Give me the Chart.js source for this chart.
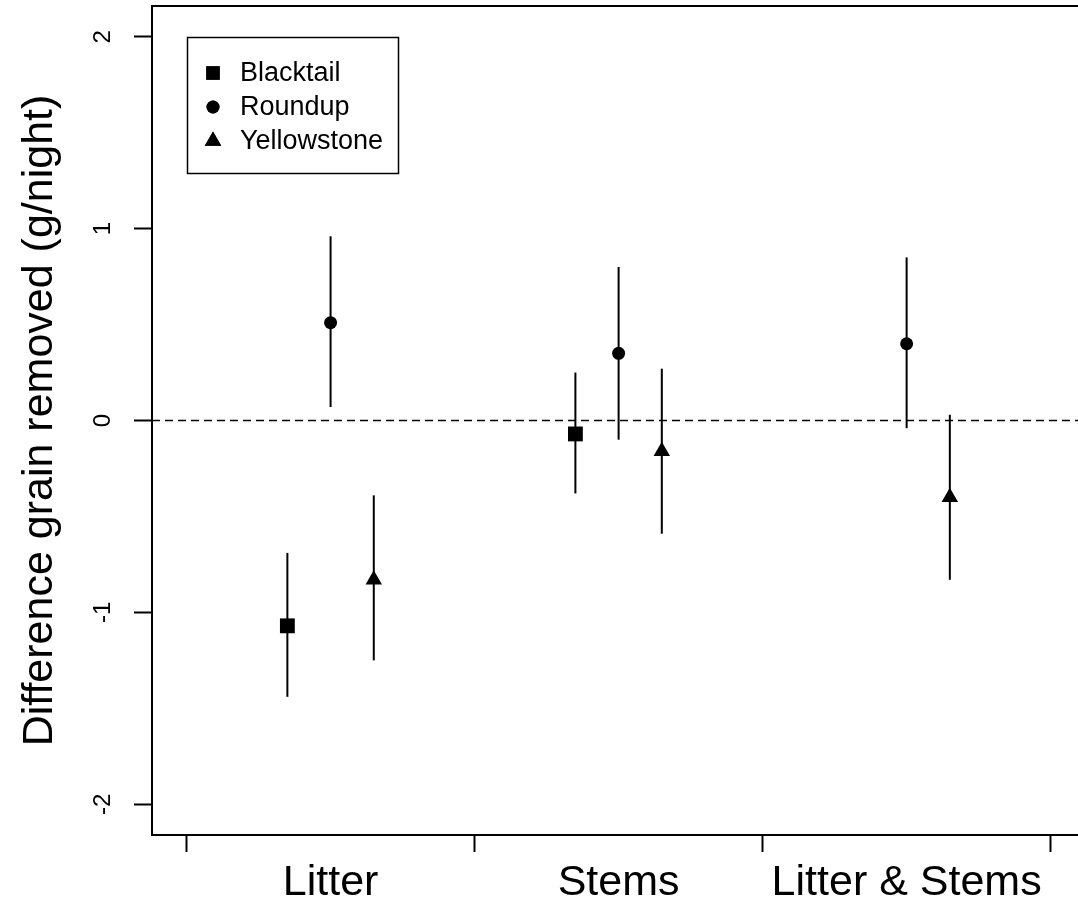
<!DOCTYPE html>
<html>
<head>
<meta charset="utf-8">
<script src="https://cdn.jsdelivr.net/npm/chart.js@4.4.1/dist/chart.umd.min.js"></script>
<style>
  html, body { margin: 0; padding: 0; background: #fff; }
  #wrap { width: 1078px; height: 905px; }
</style>
</head>
<body>
<div id="wrap"><canvas id="chart" width="1078" height="905"></canvas></div>
<script>
// treatment groups along the x axis
const categories = ["Litter", "Stems", "Litter & Stems"];
const yTicks = [-2, -1, 0, 1, 2];

// mean difference and interval ends per site (g/night)
const blacktailMean = [-1.07, -0.07, null];
const blacktailLow = [-1.44, -0.38, null];
const blacktailHigh = [-0.69, 0.25, null];

const roundupMean = [0.51, 0.35, 0.40];
const roundupLow = [0.07, -0.10, -0.04];
const roundupHigh = [0.96, 0.80, 0.85];

const yellowstoneMean = [-0.83, -0.16, -0.40];
const yellowstoneLow = [-1.25, -0.59, -0.83];
const yellowstoneHigh = [-0.39, 0.27, 0.03];

const FONT = "'Liberation Sans', Arial, Helvetica, sans-serif";

const sites = [
  { label: "Blacktail", mean: blacktailMean, low: blacktailLow, high: blacktailHigh, style: "rect", radius: 10.5, legendRadius: 9.5, shift: -0.15 },
  { label: "Roundup", mean: roundupMean, low: roundupLow, high: roundupHigh, style: "circle", radius: 6.5, legendRadius: 6.5, shift: 0 },
  { label: "Yellowstone", mean: yellowstoneMean, low: yellowstoneLow, high: yellowstoneHigh, style: "triangle", radius: 9.5, legendRadius: 9.5, shift: 0.15 },
];

const datasets = sites.map(function (s) {
  const pts = [];
  categories.forEach(function (c, i) {
    if (s.mean[i] === null) return;
    pts.push({ x: i + 0.5 + s.shift, y: s.mean[i], lo: s.low[i], hi: s.high[i] });
  });
  return {
    label: s.label,
    data: pts,
    pointStyle: s.style,
    pointRadius: s.radius,
    pointHoverRadius: s.radius,
    backgroundColor: "#000",
    borderColor: "#000",
    borderWidth: 0,
    showLine: false,
  };
});

// vertical interval lines and the dashed zero reference
const errorBars = {
  id: "errorBars",
  beforeDatasetsDraw: function (chart) {
    const ctx = chart.ctx;
    const xs = chart.scales.x, ys = chart.scales.y;
    const area = chart.chartArea;
    ctx.save();
    ctx.strokeStyle = "#000";
    ctx.lineWidth = 1.5;
    ctx.setLineDash([8, 5]);
    const y0 = ys.getPixelForValue(0);
    ctx.beginPath();
    ctx.moveTo(area.left, y0);
    ctx.lineTo(area.right, y0);
    ctx.stroke();
    ctx.setLineDash([]);
    ctx.lineWidth = 2;
    chart.data.datasets.forEach(function (ds) {
      ds.data.forEach(function (p) {
        const px = xs.getPixelForValue(p.x);
        ctx.beginPath();
        ctx.moveTo(px, ys.getPixelForValue(p.lo));
        ctx.lineTo(px, ys.getPixelForValue(p.hi));
        ctx.stroke();
      });
    });
    ctx.restore();
  },
};

// top edge of the plot box plus the boxed legend
const boxAndLegend = {
  id: "boxAndLegend",
  afterDraw: function (chart) {
    const ctx = chart.ctx;
    const area = chart.chartArea;
    const xs = chart.scales.x, ys = chart.scales.y;
    ctx.save();
    ctx.strokeStyle = "#000";
    ctx.lineWidth = 2;
    ctx.beginPath();
    ctx.moveTo(area.left, area.top);
    ctx.lineTo(area.right, area.top);
    ctx.stroke();

    const lx = Math.round(xs.getPixelForValue(0));
    const ly = Math.round(ys.getPixelForValue(2));
    ctx.lineWidth = 1.5;
    ctx.strokeRect(lx + 0.5, ly + 0.5, 211, 136);

    ctx.fillStyle = "#000";
    ctx.font = "27px " + FONT;
    ctx.textBaseline = "middle";
    ctx.textAlign = "left";
    sites.forEach(function (s, i) {
      const ry = ly + 36 + i * 34;
      ctx.fillStyle = "#000";
      Chart.helpers.drawPoint(ctx, { pointStyle: s.style, radius: s.legendRadius, rotation: 0, borderWidth: 0 }, lx + 26, ry);
      ctx.fillStyle = "#000";
      ctx.fill();
      ctx.fillText(s.label, lx + 53, ry + 1);
    });
    ctx.restore();
  },
};

Chart.defaults.color = "#000";
Chart.defaults.font.family = FONT;

new Chart(document.getElementById("chart"), {
  type: "scatter",
  data: { datasets: datasets },
  plugins: [errorBars, boxAndLegend],
  options: {
    responsive: false,
    animation: false,
    events: [],
    layout: { autoPadding: false, padding: { top: 6, right: 0, left: 0, bottom: 0 } },
    plugins: {
      legend: { display: false },
      tooltip: { enabled: false },
    },
    scales: {
      x: {
        type: "linear",
        min: -0.12,
        max: 3.095,
        afterBuildTicks: function (scale) {
          scale.ticks = [0, 0.5, 1, 1.5, 2, 2.5, 3].map(function (v) { return { value: v }; });
        },
        afterFit: function (scale) {
          scale.height = 70;
          scale.paddingLeft = 0;
          scale.paddingRight = 0;
        },
        border: { display: true, color: "#000", width: 2 },
        grid: {
          drawOnChartArea: false,
          tickLength: 17,
          tickWidth: 2,
          tickColor: function (c) {
            return Number.isInteger(c.tick.value) ? "#000" : "rgba(0,0,0,0)";
          },
        },
        ticks: {
          autoSkip: false,
          maxRotation: 0,
          minRotation: 0,
          padding: 5,
          font: { size: 43 },
          callback: function (v) {
            return Number.isInteger(v) ? "" : categories[Math.floor(v)];
          },
        },
      },
      y: {
        min: -2.16,
        max: 2.16,
        afterBuildTicks: function (scale) {
          scale.ticks = yTicks.map(function (v) { return { value: v }; });
        },
        afterFit: function (scale) {
          scale.width = 152;
          scale.paddingTop = 0;
          scale.paddingBottom = 0;
        },
        border: { display: true, color: "#000", width: 2 },
        grid: {
          drawOnChartArea: false,
          tickLength: 18,
          tickWidth: 2,
          tickColor: "#000",
        },
        ticks: {
          minRotation: 90,
          maxRotation: 90,
          crossAlign: "center",
          padding: 20,
          font: { size: 24 },
          callback: function (v) { return String(v); },
        },
        title: {
          display: true,
          text: "Difference grain removed (g/night)",
          font: { size: 43, lineHeight: 1 },
          padding: { top: 19, bottom: 0 },
        },
      },
    },
  },
});
</script>
</body>
</html>
